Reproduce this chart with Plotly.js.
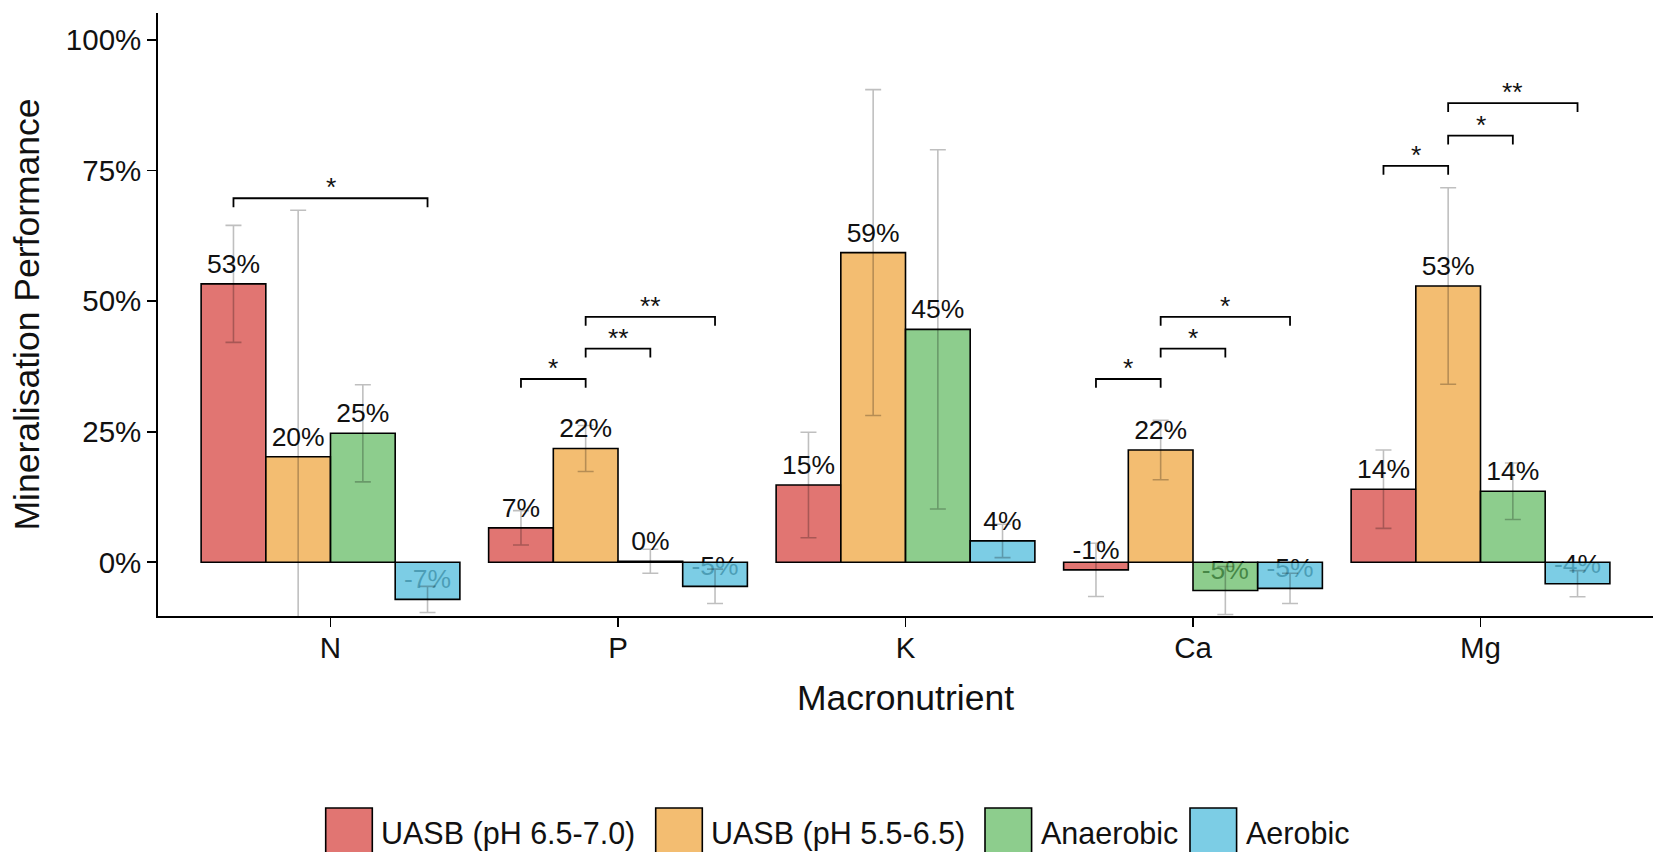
<!DOCTYPE html>
<html><head><meta charset="utf-8">
<script src="https://cdn.plot.ly/plotly-3.0.1.min.js"></script>
<style>html,body{margin:0;padding:0;background:#fff;overflow:hidden}#chart{width:1657px;height:852px}</style>
</head><body><div id="chart"></div>
<script>
const categories = ['N', 'P', 'K', 'Ca', 'Mg'];
const seriesNames = ['UASB (pH 6.5-7.0)', 'UASB (pH 5.5-6.5)', 'Anaerobic', 'Aerobic'];
const uasbHigh = [53.3, 6.6, 14.8, -1.45, 14.0];
const uasbHighErr = [11.2, 3.3, 10.1, 5.1, 7.5];
const uasbLow = [20.2, 21.8, 59.3, 21.5, 52.9];
const uasbLowErr = [47.2, 4.4, 31.2, 5.7, 18.8];
const anaerobic = [24.7, 0.2, 44.6, -5.4, 13.6];
const anaerobicErr = [9.3, 2.3, 34.4, 4.6, 5.4];
const aerobic = [-7.1, -4.6, 4.1, -5.0, -4.1];
const aerobicErr = [2.5, 3.3, 3.2, 2.9, 2.5];
const yTickValues = [0, 25, 50, 75, 100];
// significance brackets
const bracketCategory = [0, 1, 1, 1, 3, 3, 3, 4, 4, 4];
const bracketFrom = [0, 0, 1, 1, 0, 1, 1, 0, 1, 1];
const bracketTo = [3, 1, 2, 3, 1, 2, 3, 1, 2, 3];
const bracketHeight = [69.7, 35.1, 40.9, 47.0, 35.1, 40.9, 47.0, 75.9, 81.7, 87.9];
const bracketLabel = ['*', '*', '**', '**', '*', '*', '*', '*', '*', '**'];

const values = [uasbHigh, uasbLow, anaerobic, aerobic];
const errors = [uasbHighErr, uasbLowErr, anaerobicErr, aerobicErr];
const colors = ['rgba(217,83,79,0.8)', 'rgba(240,173,78,0.8)', 'rgba(92,184,92,0.7)', 'rgba(91,192,222,0.8)'];
const FONT = 'Liberation Sans, Arial, sans-serif';
const barW = 0.225;
const off = k => (k - 1.5) * barW;
const xIdx = categories.map((c, i) => i);
const yRange = [-10.28, 105.17];
const xRange = [-0.6, 4.6];

const traces = [];
// value labels (drawn beneath the bars)
const lx = [], ly = [], lt = [];
values.forEach((arr, k) => arr.forEach((v, i) => { lx.push(i + off(k)); ly.push(v); lt.push(Math.round(v) + '%'); }));
traces.push({
  type: 'scatter', mode: 'markers+text', x: lx, y: ly, text: lt, textposition: 'top center',
  textfont: {family: FONT, size: 26.5, color: '#111'},
  marker: {size: 5.5, color: 'rgba(0,0,0,0)'}, hoverinfo: 'skip', showlegend: false, cliponaxis: false,
  xaxis: 'x', yaxis: 'y'
});
values.forEach((arr, k) => {
  traces.push({
    type: 'bar', name: seriesNames[k], x: xIdx, y: arr, xaxis: 'x', yaxis: 'y2',
    marker: {color: colors[k], line: {color: '#000', width: 1.6}},
    error_y: {type: 'data', array: errors[k], visible: true, color: 'rgba(0,0,0,0.25)', thickness: 1.6, width: 8},
    showlegend: false
  });
});

const shapes = [], annotations = [];
bracketCategory.forEach((c, j) => {
  const x1 = c + off(bracketFrom[j]), x2 = c + off(bracketTo[j]);
  const h = bracketHeight[j], tip = h - 1.7;
  shapes.push({type: 'path', xref: 'x', yref: 'y', path: `M ${x1} ${tip} L ${x1} ${h} L ${x2} ${h} L ${x2} ${tip}`,
    line: {color: '#000', width: 1.8}});
  annotations.push({xref: 'x', yref: 'y', x: (x1 + x2) / 2, y: h, text: bracketLabel[j], showarrow: false,
    yanchor: 'bottom', yshift: -6, font: {family: FONT, size: 26.5, color: '#111'}});
});

// custom legend
const L = 158, R = 1653, T = 13, B = 616, W = R - L, H = B - T;
const px = x => (x - L) / W, py = y => (B - y) / H;
const keyLeft = [325.7, 655.7, 985, 1190];
const keySize = 46.6, keyTop = 808;
seriesNames.forEach((n, k) => {
  shapes.push({type: 'rect', xref: 'paper', yref: 'paper', x0: px(keyLeft[k]), x1: px(keyLeft[k] + keySize),
    y0: py(keyTop), y1: py(keyTop + keySize), fillcolor: colors[k], line: {color: '#000', width: 1.6}});
  annotations.push({xref: 'paper', yref: 'paper', x: px(keyLeft[k] + keySize + 7), y: py(833), xanchor: 'left', yanchor: 'middle',
    text: n, showarrow: false, font: {family: FONT, size: 30.5, color: '#111'}});
});

const axisCommon = {showgrid: false, zeroline: false, showline: true, linecolor: '#000', linewidth: 1.8,
  ticks: 'outside', ticklen: 9, tickwidth: 1.8, tickcolor: '#000', tickfont: {family: FONT, size: 29.5, color: '#111'}};
const layout = {
  width: 1657, height: 852, paper_bgcolor: '#fff', plot_bgcolor: '#fff',
  margin: {l: L, r: 1657 - R, t: T, b: 852 - B},
  barmode: 'group', bargap: 0.1, bargroupgap: 0,
  font: {family: FONT},
  xaxis: Object.assign({}, axisCommon, {range: xRange, tickvals: xIdx, ticktext: categories, ticklabelstandoff: -4,
    title: {text: 'Macronutrient', font: {family: FONT, size: 35.5, color: '#111'}, standoff: 22}}),
  yaxis: Object.assign({}, axisCommon, {range: yRange, tickvals: yTickValues, ticktext: yTickValues.map(v => v + '%'),
    title: {text: 'Mineralisation Performance', font: {family: FONT, size: 35.5, color: '#111'}, standoff: 15}}),
  yaxis2: {overlaying: 'y', range: yRange, visible: false, showgrid: false, zeroline: false},
  shapes: shapes, annotations: annotations
};
Plotly.newPlot('chart', traces, layout, {displayModeBar: false, staticPlot: true});
</script>
</body></html>
